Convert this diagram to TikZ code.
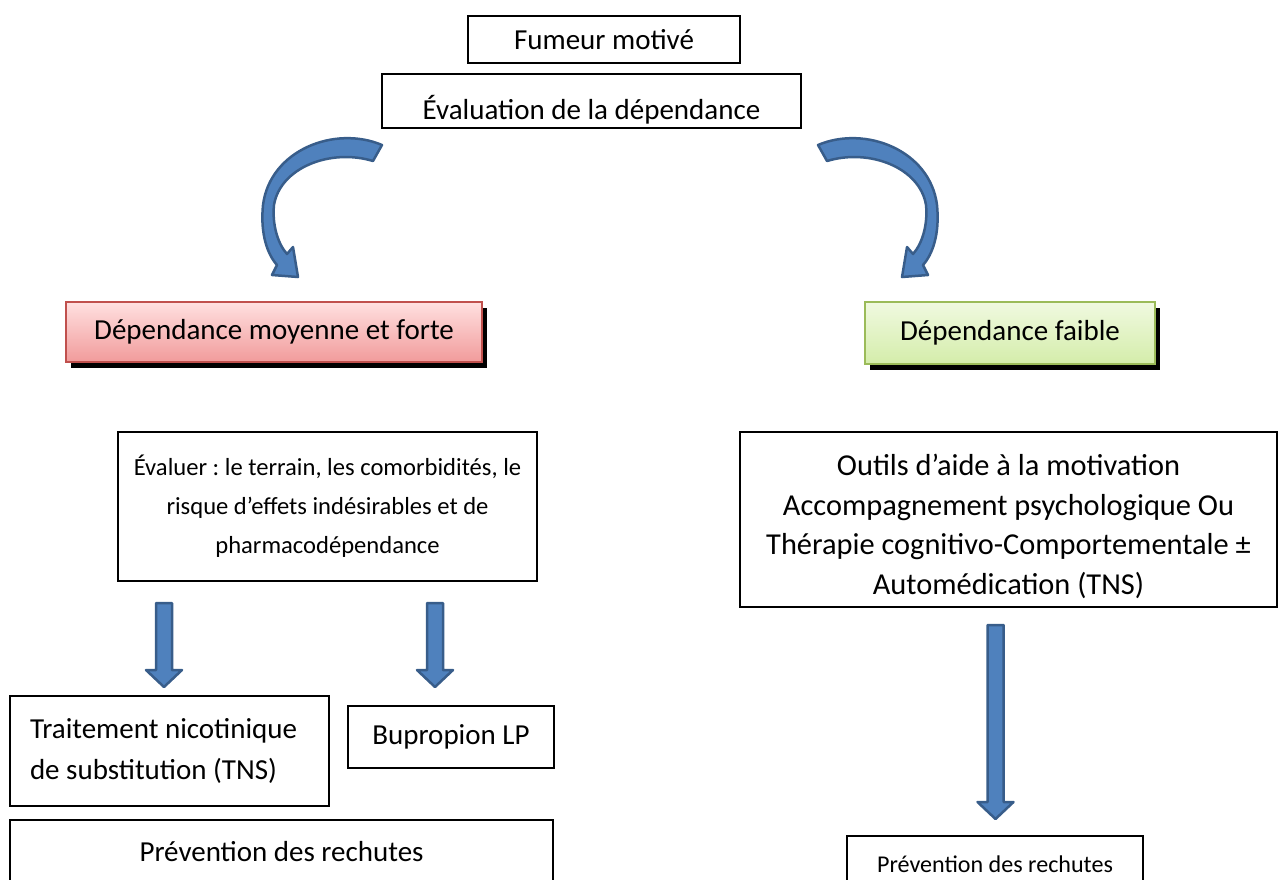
\documentclass[tikz,border=0pt]{standalone}
\usepackage{fontspec}
\setmainfont{Carlito}
\usepackage{xcolor}
\usepackage{tikz}
\usetikzlibrary{shapes.geometric, arrows, positioning, fit, shadows}
\frenchspacing

\definecolor{arrowblue}{RGB}{79,129,189}
\definecolor{arrowedge}{RGB}{56,93,138}
\definecolor{pinktop}{RGB}{255,224,224}
\definecolor{pinkbottom}{RGB}{241,155,155}
\definecolor{pinkedge}{RGB}{192,80,77}
\definecolor{greentop}{RGB}{240,249,224}
\definecolor{greenbottom}{RGB}{212,237,170}
\definecolor{greenedge}{RGB}{155,187,89}

% straight block arrow: x, top y, tip y
\newcommand{\downblock}[3]{%
	\draw [blockarrow] (#1-8,#2) -- (#1+8,#2) -- (#1+8,#3-17) -- (#1+18,#3-17) -- (#1,#3) -- (#1-18,#3-17) -- (#1-8,#3-17) -- cycle;}

% curved block arrow (left one, mirrored for the right)
\newcommand{\bentarrow}{%
	\draw [blockarrow] (382,145) .. controls (335,125) and (270,150) .. (263,205)
		.. controls (260,235) and (268,255) .. (277,265)
		-- (272,275) -- (298,277) -- (293,247) -- (287,254)
		.. controls (278,244) and (272,225) .. (274,205)
		.. controls (280,168) and (330,148) .. (373,161) -- cycle;}

\begin{document}
\begin{tikzpicture}[x=0.02cm, y=-0.02cm]
				% Styles
				\tikzstyle{box} = [draw, line width=0.045cm, rectangle, inner sep=0pt, align=flush center, font=\fontsize{16.5pt}{22.3pt}\selectfont]
				\tikzstyle{forte} = [box, draw=pinkedge, top color=pinktop, bottom color=pinkbottom, drop shadow={shadow xshift=0.1cm, shadow yshift=-0.12cm, fill=black, opacity=1}]
				\tikzstyle{faible} = [box, draw=greenedge, top color=greentop, bottom color=greenbottom, drop shadow={shadow xshift=0.1cm, shadow yshift=-0.12cm, fill=black, opacity=1}]
				\tikzstyle{blockarrow} = [fill=arrowblue, draw=arrowedge, line width=0.05cm, line join=round]

				\useasboundingbox (0,0) rectangle (1283,879);
				\clip (0,0) rectangle (1283,879);

				% Nodes with absolute coordinates (pixels, y downwards)
				\node (fumeur) [box, minimum width=5.44cm, minimum height=0.94cm] at (604,39.5) {Fumeur motivé};
				\node (evaldep) [box, minimum width=8.38cm, text height=0.76cm, text depth=0pt, inner ysep=0.16cm] at (591.5,101) {Évaluation de la dépendance};
				\node (moyforte) [forte, minimum width=8.32cm, minimum height=1.2cm] at (274,332) {Dépendance moyenne et forte};
				\node (faible) [faible, minimum width=5.8cm, minimum height=1.24cm] at (1010,333) {Dépendance faible};
				\node (evaluer) [box, minimum width=8.38cm, minimum height=2.98cm, font=\fontsize{14pt}{22.3pt}\selectfont] at (327.5,506.5) {Évaluer : le terrain, les comorbidités, le\\ risque d’effets indésirables et de\\ pharmacodépendance};
				\node (outils) [box, minimum width=10.74cm, minimum height=3.5cm, font=\fontsize{17.3pt}{22.6pt}\selectfont] at (1008.5,519.5) {\rule{0pt}{20pt}Outils d’aide à la motivation\\ Accompagnement psychologique Ou\\ Thérapie cognitivo-Comportementale ±\\ Automédication (TNS)};
				\node (tns) [box, text width=5.58cm, align=flush left, inner xsep=0.4cm, minimum height=2.2cm, font=\fontsize{16.5pt}{23.8pt}\selectfont] at (169.5,751) {Traitement nicotinique\\ de substitution (TNS)};
				\node (bupropion) [box, minimum width=4.12cm, minimum height=1.24cm] at (451,737) {Bupropion LP};
				\node (prevgauche) [box, minimum width=10.86cm, minimum height=1.28cm] at (281.5,852) {Prévention des rechutes};
				\node (prevdroite) [box, minimum width=5.92cm, minimum height=1.12cm, font=\fontsize{13.7pt}{18pt}\selectfont] at (995,864) {Prévention des rechutes};

				% Arrows
				\bentarrow
				\begin{scope}[shift={(1200,0)}, xscale=-1]
					\bentarrow
				\end{scope}
				\downblock{164}{603}{687}
				\downblock{435}{603}{687}
				\downblock{995.5}{625}{819}

			\end{tikzpicture}
\end{document}
